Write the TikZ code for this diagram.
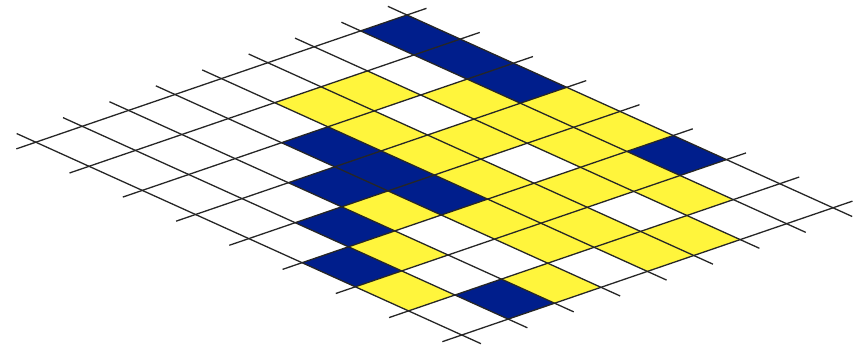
\documentclass[tikz,border=0pt]{standalone}
\usepackage{xcolor}
\usepackage{tikz}
\definecolor{cellblue}{RGB}{0,30,140}
\definecolor{cellyellow}{RGB}{255,245,60}

\begin{document}
\begin{tikzpicture}[
  x=1pt, y=-1pt,
  gridline/.style={draw=black!85, line width=1.3pt},
  bluecell/.style={fill=cellblue},
  yellowcell/.style={fill=cellyellow}
]
\useasboundingbox (0,0) rectangle (859,346);
\begin{scope}[shift={(407,15)}, x={(53.25pt,-24.1pt)}, y={(-46.4pt,-15.9pt)}]
  % filled cells (column/row)
  \foreach \i/\j in {0/0,1/0,2/0,5/0,2/4,3/4,4/4,3/5,4/6,7/6,5/7}
    \fill[bluecell] (\i,\j) -- ++(1,0) -- ++(0,1) -- ++(-1,0) -- cycle;
  \foreach \i/\j in {3/0,4/0,2/1,3/1,4/1,5/1,6/1,1/2,3/2,5/2,7/2,
                     1/3,2/3,3/3,4/3,5/3,6/3,7/3,5/4,6/4,4/5,7/5,5/6,6/7}
    \fill[yellowcell] (\i,\j) -- ++(1,0) -- ++(0,1) -- ++(-1,0) -- cycle;
  % grid lines
  \foreach \k in {0,...,8} {
    \draw[gridline] (-0.36,\k) -- (8.36,\k);
    \draw[gridline] (\k,-0.42) -- (\k,8.42);
  }
\end{scope}
\end{tikzpicture}
\end{document}
